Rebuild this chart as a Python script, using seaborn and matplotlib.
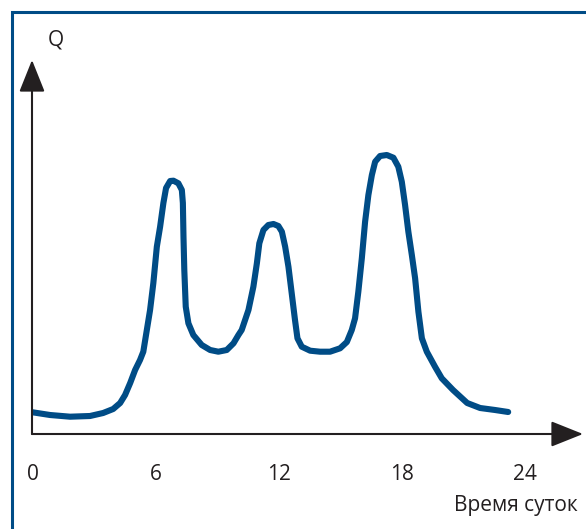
import matplotlib
matplotlib.use("Agg")
import matplotlib.pyplot as plt
from matplotlib.patches import Rectangle
import pandas as pd
import seaborn as sns

# Время суток (часы) и нагрузка Q (усл. ед.)
hours = [0, 0.85, 1.83, 2.80, 3.44, 3.93, 4.27, 4.51, 4.76, 5.00, 5.24, 5.40,
         5.73, 5.89, 6.06, 6.22, 6.38, 6.51, 6.71, 6.87, 7.11, 7.28, 7.33,
         7.36, 7.40, 7.47, 7.60, 7.84, 8.25, 8.66, 9.06, 9.47, 9.80, 10.04,
         10.20, 10.53, 10.77, 10.94, 11.06, 11.26, 11.50, 11.75, 11.99, 12.16,
         12.32, 12.48, 12.64, 12.80, 12.92, 13.13, 13.54, 14.02, 14.51, 15.00,
         15.33, 15.57, 15.73, 15.89, 16.06, 16.22, 16.38, 16.55, 16.71, 16.95,
         17.28, 17.60, 17.84, 18.01, 18.17, 18.33, 18.50, 18.66, 18.82, 18.99,
         19.23, 19.63, 19.96, 20.51, 21.20, 21.83, 22.56, 23.20]
q_values = [2.17, 1.90, 1.73, 1.80, 2.10, 2.50, 3.10, 3.90, 5.10, 6.40, 7.40,
            8.23, 12.40, 15.10, 18.73, 20.73, 23.10, 24.60, 25.30, 25.33,
            25.07, 24.40, 23.10, 19.73, 16.40, 12.73, 11.07, 9.90, 8.90, 8.40,
            8.23, 8.40, 9.07, 9.90, 10.40, 12.40, 14.73, 17.07, 19.07, 20.40,
            20.90, 21.00, 20.80, 20.23, 18.73, 16.73, 14.07, 11.40, 9.57, 8.73,
            8.33, 8.23, 8.23, 8.57, 9.20, 10.40, 11.57, 14.23, 17.57, 21.23,
            23.90, 25.90, 27.23, 27.80, 27.90, 27.63, 26.73, 25.23, 22.90,
            20.23, 17.90, 15.57, 12.23, 9.57, 8.23, 6.73, 5.57, 4.40, 3.10,
            2.60, 2.40, 2.20]
tick_hours = [0, 6, 12, 18, 24]

BLUE = "#004c86"
W, H = 586, 529

sns.set_style("white")
plt.rcParams["font.family"] = ["Open Sans", "DejaVu Sans"]

df = pd.DataFrame({"hour": hours, "Q": q_values})

fig = plt.figure(figsize=(W / 100, H / 100), dpi=100)
# оси: от x=32 до 583 px, от y=60 до 434 px
ax = fig.add_axes([32 / W, 1 - 434 / H, (583 - 32) / W, (434 - 60) / H])

sns.lineplot(data=df, x="hour", y="Q", ax=ax, color=BLUE, lw=4.4,
             sort=False, solid_capstyle="round", solid_joinstyle="round")

ax.set_xlim(-0.03, 26.85)
ax.set_ylim(0, 37.4)
for s in ax.spines.values():
    s.set_visible(False)
ax.set_xticks([])
ax.set_yticks([])
ax.set_xlabel("")
ax.set_ylabel("")

# стрелки осей
arrow = dict(arrowstyle="-|>,head_length=1.0,head_width=0.4",
             color="#231f20", lw=1.5, mutation_scale=20, shrinkA=0, shrinkB=0)
ax.annotate("", xy=(1, 0), xytext=(0, 0), xycoords="axes fraction",
            arrowprops=arrow)
ax.annotate("", xy=(0, 1), xytext=(0, 0), xycoords="axes fraction",
            arrowprops=arrow)

# подписи
for h in tick_hours:
    ax.text(h, -4.0, str(h), ha="center", va="center", fontsize=15,
            color="#231f20")
fig.text(578 / W, 1 - 506 / H, "Время суток", ha="right", va="center",
         fontsize=15, color="#231f20")
fig.text(56 / W, 1 - 40 / H, "Q", ha="center", va="center",
         fontsize=15, color="#231f20")

# рамка
fig.patches.append(Rectangle((12 / W, -0.1), 1.2, 1.1 - 12 / H,
                             transform=fig.transFigure, fill=False,
                             edgecolor=BLUE, lw=2.2))

fig.savefig("out.png", dpi=100)
